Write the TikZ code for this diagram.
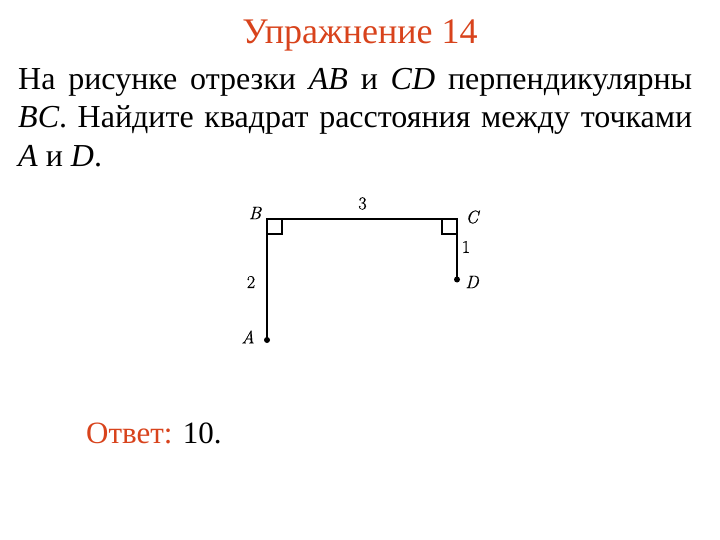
\documentclass[tikz,border=0pt]{standalone}
\usepackage{fontspec}
\setmainfont{Liberation Serif}
\newfontfamily\lmfont[FakeBold=0.6]{Latin Modern Roman}
\definecolor{titlered}{HTML}{D8431C}
\begin{document}
\begin{tikzpicture}[x=1pt,y=-1pt,
  seg/.style={line width=2pt, black},
  ra/.style={line width=1.5pt, black},
  dot/.style={circle, fill=black, inner sep=0pt, minimum size=6pt},
  lbl/.style={font=\lmfont\fontsize{18}{18}\selectfont\itshape, inner sep=0pt},
  num/.style={font=\lmfont\fontsize{18}{18}\selectfont, inner sep=0pt}]
\useasboundingbox (0,0) rectangle (720,540);
% title
\node[anchor=base, inner sep=0pt, font=\fontsize{36}{40}\selectfont, text=titlered] (title) at (360,44) {Упражнение 14};
% problem text
\node[anchor=north west, text width=674pt, align=justify, inner sep=0pt,
      font=\fontsize{32}{38.5}\selectfont] (text) at (18,68)
 {На рисунке отрезки \textit{AB} и \textit{CD} перпендикулярны\linebreak \textit{BC}. Найдите квадрат расстояния между точками\linebreak \textit{A} и~\textit{D}.};
% figure
\coordinate (B) at (267,219);
\coordinate (C) at (457,219);
\coordinate (D) at (457,279.5);
\coordinate (A) at (267,340);
\draw[seg] (A) -- (B) -- (C) -- (D);
\draw[ra] (267,234) -- (282,234) -- (282,219);
\draw[ra] (457,234) -- (442,234) -- (442,219);
\node[dot] (dA) at (A) {};
\node[dot] (dD) at (D) {};
\node[lbl] (lB) at (255,213) {B};
\node[lbl] (lC) at (472,217) {C};
\node[lbl] (lA) at (248,337) {A};
\node[lbl] (lD) at (472,282) {D};
\node[num] (n3) at (362.5,203.5) {3};
\node[num] (n1) at (466,247) {1};
\node[num] (n2) at (251,282) {2};
% answer
\node[anchor=west, inner sep=0pt, font=\fontsize{31}{36}\selectfont] (ans) at (86,433)
 {\textcolor{titlered}{Ответ:} 10.};
\end{tikzpicture}
\end{document}
